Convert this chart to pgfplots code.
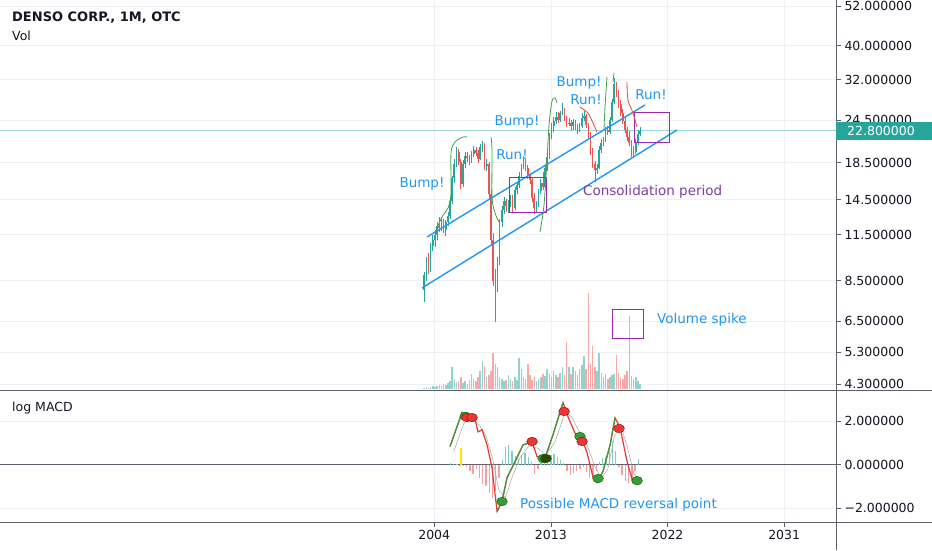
\documentclass[border=0pt]{standalone}
\usepackage{pgfplots}
\pgfplotsset{compat=1.18}
\usepackage{pgfplotstable}
\usepackage{fontspec}
\setmainfont{DejaVu Sans}
\newfontfamily\tickfont{DejaVu Sans}

\definecolor{upc}{HTML}{26A69A}
\definecolor{dnc}{HTML}{EF5350}
\definecolor{upv}{HTML}{92D2CC}
\definecolor{dnv}{HTML}{F6A9A7}
\definecolor{annb}{HTML}{2196F3}
\definecolor{purp}{HTML}{9C27B0}
\definecolor{purtxt}{HTML}{7B3FA8}
\definecolor{brg}{HTML}{43A047}
\definecolor{brr}{HTML}{F44336}
\definecolor{gridc}{HTML}{EEF0F5}
\definecolor{sepc}{HTML}{5D606B}
\definecolor{txtc}{HTML}{131722}
\definecolor{lastline}{HTML}{9FD8D1}
\definecolor{macdg}{HTML}{3A9A3C}
\definecolor{macdr}{HTML}{E53935}
\definecolor{histg}{HTML}{80CBC4}
\definecolor{histr}{HTML}{F2A0A0}

% rising months: x open high low close volume
\pgfplotstableread{
x o h l c v
2003.22 8.0 9.0 7.4 8.8 1
2003.39 8.8 9.9 8.5 9.6 2
2003.72 9.1 10.9 9.0 10.7 2
2003.89 10.7 11.5 10.3 11.1 3
2004.05 11.1 11.9 10.6 11.5 2
2004.22 11.5 12.5 11.1 12.2 3
2004.55 12.0 12.9 11.8 12.5 3
2004.89 11.9 12.7 11.4 12.5 4
2005.05 12.5 13.4 12.2 13.0 6
2005.22 13.0 14.7 12.8 14.4 8
2005.39 14.4 17.0 14.1 16.7 22
2005.55 16.7 18.9 16.2 18.4 10
2005.72 18.4 20.5 18.0 19.8 7
2006.22 16.1 18.8 15.8 18.4 6
2006.39 18.4 19.9 17.9 19.4 8
2006.89 18.8 20.0 18.5 19.6 15
2007.05 19.6 20.7 19.2 20.1 10
2007.55 19.0 20.9 18.8 20.5 18
2007.72 20.5 21.4 19.9 20.7 28
2008.05 18.1 18.9 17.5 18.4 12
2008.89 8.2 9.9 7.9 9.6 22
2009.05 9.6 12.8 9.4 12.5 12
2009.22 12.5 13.9 12.1 13.5 10
2009.39 13.5 14.8 13.2 14.4 8
2009.72 13.9 14.5 13.3 14.2 14
2009.89 14.2 14.9 13.8 14.4 10
2010.22 13.7 15.8 13.5 15.5 12
2010.39 15.5 16.3 15.0 16.0 9
2010.55 16.0 17.4 15.7 17.0 31
2010.72 17.0 18.4 16.7 18.0 20
2010.89 18.0 19.4 17.8 18.8 12
2011.89 13.7 14.4 13.3 14.0 8
2012.05 14.0 15.6 13.8 15.3 10
2012.22 15.3 16.6 15.0 16.2 12
2012.55 15.8 18.3 15.6 17.9 13
2012.72 17.9 19.6 17.5 19.2 20
2012.89 19.2 22.5 19.0 22.1 15
2013.05 22.1 24.0 21.6 23.5 12
2013.22 23.5 25.0 22.6 24.3 18
2013.39 24.3 25.9 23.8 25.0 14
2013.72 24.5 26.0 24.2 25.7 16
2013.89 25.7 27.5 25.3 26.2 22
2014.39 23.9 24.9 23.5 24.1 22
2014.72 23.5 24.6 23.0 24.2 22
2015.22 23.0 24.0 22.7 23.5 20
2015.39 23.5 25.6 23.2 24.8 24
2015.55 24.8 26.0 24.4 25.2 33
2016.55 17.6 18.4 17.2 17.9 18
2016.72 17.9 20.6 17.7 20.1 36
2016.89 20.1 21.6 19.7 21.1 16
2017.05 21.1 21.9 20.6 21.5 12
2017.22 21.5 23.4 21.2 23.0 15
2017.55 22.6 25.0 22.4 24.5 12
2017.72 24.5 28.2 24.2 27.6 14
2017.89 27.6 32.4 27.2 31.0 15
2019.55 19.8 21.6 19.6 21.2 12
2019.72 21.2 22.9 20.8 22.4 8
2019.89 22.4 23.4 22.0 22.8 5
}\upc

% falling months
\pgfplotstableread{
x o h l c v
2003.55 9.6 10.2 8.9 9.1 1
2004.39 12.2 12.9 11.7 12.0 4
2004.72 12.5 12.8 11.6 11.9 5
2005.89 19.8 20.3 18.2 18.6 8
2006.05 18.6 19.0 15.6 16.1 12
2006.55 19.4 19.8 18.6 19.1 5
2006.72 19.1 19.5 18.2 18.8 9
2007.22 20.1 20.5 19.3 19.7 8
2007.39 19.7 20.1 18.5 19.0 12
2007.89 20.7 21.0 17.6 18.1 23
2008.22 18.4 18.6 14.6 15.0 14
2008.39 15.0 15.5 10.8 11.1 18
2008.55 11.1 11.6 8.2 8.5 36
2008.72 8.5 9.2 6.45 8.2 25
2009.55 14.4 14.6 13.4 13.9 9
2010.05 14.4 14.9 13.4 13.7 8
2011.05 18.8 19.0 17.5 17.9 10
2011.22 17.9 18.2 16.6 17.0 25
2011.39 17.0 17.3 16.1 16.5 14
2011.55 16.5 16.8 14.3 14.7 9
2011.72 14.7 15.1 13.2 13.7 12
2012.39 16.2 17.4 15.4 15.8 15
2013.55 25.0 25.8 24.1 24.5 12
2014.05 26.2 26.6 24.3 24.8 14
2014.22 24.8 25.2 23.4 23.9 47
2014.55 24.1 24.5 22.8 23.5 15
2014.89 24.2 24.5 22.9 23.3 18
2015.05 23.3 23.9 22.4 23.0 14
2015.72 25.2 25.5 23.3 23.7 20
2015.89 23.7 24.1 21.8 22.2 96
2016.05 22.2 22.6 19.5 20.0 25
2016.22 20.0 20.4 17.9 18.3 43
2016.39 18.3 18.7 16.3 17.6 22
2017.39 23.0 23.5 22.2 22.6 10
2018.05 31.0 31.6 28.6 29.2 34
2018.22 29.2 29.8 26.6 27.2 16
2018.39 27.2 28.0 25.2 25.7 12
2018.55 25.7 26.4 23.8 24.3 10
2018.72 24.3 25.0 22.5 23.0 14
2018.89 23.0 23.4 21.4 21.9 18
2019.05 21.9 22.8 20.6 21.0 73
2019.22 21.0 21.5 19.2 20.1 13
2019.39 20.1 20.6 19.3 19.8 10
}\dnc

\pgfplotstableread{
x m
2005.22 0.83
2006.15 2.40
2006.53 2.15
2007.15 2.07
2007.38 1.50
2007.69 1.60
2008.08 0.90
2008.46 -0.15
2008.85 -2.15
2009.23 -1.70
2009.62 -0.60
2010.24 0.14
2010.85 0.90
2011.55 1.05
2011.93 0.37
2012.55 0.30
2013.17 1.38
2013.94 2.85
2014.25 2.30
2014.64 1.75
2015.02 1.24
2015.41 1.15
2015.79 0.55
2016.26 -0.60
2016.56 -0.83
2017.03 -0.30
2017.57 0.90
2017.95 2.15
2018.34 1.70
2018.88 0.14
2019.34 -0.83
2019.73 -0.70
}\macd

\pgfplotstableread{
x s
2005.50 0.60
2006.30 1.90
2006.90 2.15
2007.50 1.80
2008.00 1.30
2008.50 0.30
2009.00 -1.20
2009.50 -1.50
2010.00 -0.60
2010.60 0.30
2011.30 0.85
2012.00 0.75
2012.60 0.45
2013.30 1.00
2014.10 2.40
2014.60 2.20
2015.20 1.50
2015.80 0.90
2016.40 -0.10
2016.90 -0.65
2017.40 -0.20
2017.90 1.30
2018.40 1.80
2018.90 0.80
2019.40 -0.40
2019.80 -0.75
}\signal

\pgfplotstableread{
x h
2005.25 0.05
2005.50 0.01
2005.75 0.02
2009.25 0.20
2009.50 0.80
2009.75 0.90
2010.00 0.60
2010.25 0.40
2010.50 0.25
2010.75 0.45
2011.00 0.55
2011.25 0.35
2011.50 0.15
2012.25 0.10
2012.50 0.20
2012.75 0.40
2013.00 0.45
2013.25 0.50
2013.50 0.35
2013.75 0.20
2014.00 0.05
2016.75 0.10
2017.00 0.30
2017.25 0.35
2017.50 0.60
2017.75 1.10
2018.00 0.60
2019.75 0.25
}\histpos

\pgfplotstableread{
x h
2006.00 -0.05
2006.25 -0.06
2006.50 -0.10
2006.75 -0.30
2007.00 -0.45
2007.25 -0.20
2007.50 -0.60
2007.75 -0.90
2008.00 -1.00
2008.25 -1.30
2008.50 -1.55
2008.75 -1.20
2009.00 -0.60
2011.75 -0.45
2012.00 -0.20
2014.25 -0.30
2014.50 -0.50
2014.75 -0.40
2015.00 -0.30
2015.25 -0.20
2015.50 -0.10
2015.75 -0.35
2016.00 -0.60
2016.25 -0.55
2016.50 -0.30
2018.25 -0.10
2018.50 -0.50
2018.75 -0.75
2019.00 -0.85
2019.25 -0.70
2019.50 -0.30
}\histneg

\begin{document}
\begin{tikzpicture}
\fill[white] (0pt,0pt) rectangle (932pt,550pt);

% ---------------- price panel (log price scale, ticks at ln of the labelled prices) ----------------
\begin{axis}[name=price, at={(0pt,160pt)}, anchor=south west, scale only axis,
  width=836pt, height=390pt,
  xmin=1970.5, xmax=2035, ymin=1.4183, ymax=3.9908,
  axis line style={draw=none},
  xtick={2004,2013,2022,2031}, xticklabels={}, x tick style={draw=none},
  ytick={1.4586,1.6677,1.8718,2.1401,2.4423,2.6741,2.9178,3.1987,3.4657,3.6889,3.9512},
  yticklabels={4.300000,5.300000,6.500000,8.500000,11.500000,14.500000,18.500000,24.500000,32.000000,40.000000,52.000000},
  ytick pos=right, yticklabel pos=right, tick align=outside,
  major tick length=5pt, y tick style={draw=sepc, line width=0.6pt},
  yticklabel style={font=\tickfont\fontsize{12.5}{14}\selectfont, text=txtc, anchor=west},
  xmajorgrids, ymajorgrids, major grid style={draw=gridc, line width=0.7pt},
  clip=false]
\addplot[draw=lastline, line width=1pt, forget plot] coordinates {(1970.5,3.1268) (2035,3.1268)};
% wicks
\addplot[draw=none, mark=none, forget plot,
  error bars/.cd, y dir=plus, y explicit, error mark=none,
  error bar style={draw=upc, line width=0.6pt}]
  table[x=x, y expr=ln(\thisrow{l}), y error plus expr=ln(\thisrow{h})-ln(\thisrow{l})] {\upc};
\addplot[draw=none, mark=none, forget plot,
  error bars/.cd, y dir=plus, y explicit, error mark=none,
  error bar style={draw=dnc, line width=0.6pt}]
  table[x=x, y expr=ln(\thisrow{l}), y error plus expr=ln(\thisrow{h})-ln(\thisrow{l})] {\dnc};
% bodies
\addplot[draw=none, mark=none, forget plot,
  error bars/.cd, y dir=plus, y explicit, error mark=none,
  error bar style={draw=upc, line width=1.6pt}]
  table[x=x, y expr=ln(\thisrow{o}), y error plus expr=ln(\thisrow{c})-ln(\thisrow{o})] {\upc};
\addplot[draw=none, mark=none, forget plot,
  error bars/.cd, y dir=plus, y explicit, error mark=none,
  error bar style={draw=dnc, line width=1.6pt}]
  table[x=x, y expr=ln(\thisrow{c}), y error plus expr=ln(\thisrow{o})-ln(\thisrow{c})] {\dnc};
\end{axis}

% ---------------- volume overlay ----------------
\begin{axis}[at={(0pt,160pt)}, anchor=south west, scale only axis,
  width=836pt, height=390pt, hide axis,
  xmin=1970.5, xmax=2035, ymin=-1, ymax=389]
\addplot[ycomb, draw=upv, line width=1.5pt, mark=none] table[x=x, y=v] {\upc};
\addplot[ycomb, draw=dnv, line width=1.5pt, mark=none] table[x=x, y=v] {\dnc};
\end{axis}

% ---------------- MACD panel ----------------
\begin{axis}[at={(0pt,28pt)}, anchor=south west, scale only axis,
  width=836pt, height=131pt,
  xmin=1970.5, xmax=2035, ymin=-2.64, ymax=3.38,
  axis line style={draw=none},
  xtick={2004,2013,2022,2031}, xticklabels={2004,2013,2022,2031}, xtick pos=bottom,
  xticklabel style={font=\tickfont\fontsize{12.5}{14}\selectfont, text=txtc},
  ytick={-2,0,2}, yticklabels={−2.000000,0.000000,2.000000},
  ytick pos=right, yticklabel pos=right, tick align=outside,
  major tick length=5pt, tick style={draw=sepc, line width=0.6pt},
  yticklabel style={font=\tickfont\fontsize{12.5}{14}\selectfont, text=txtc, anchor=west},
  xmajorgrids, ymajorgrids, major grid style={draw=gridc, line width=0.7pt},
  clip=false]
\addplot[draw=sepc, line width=0.7pt, forget plot] coordinates {(1970.5,0) (2035,0)};
\addplot[ycomb, draw=histg, line width=1.3pt, mark=none] table[x=x, y=h] {\histpos};
\addplot[ycomb, draw=histr, line width=1.3pt, mark=none] table[x=x, y=h] {\histneg};
\addplot[ycomb, draw=yellow!90!orange, line width=1.3pt, mark=none] coordinates {(2006.07,0.77)};
\addplot[draw=gray!70, line width=0.5pt, mark=none] table[x=x, y=s] {\signal};
\addplot[draw=macdr, line width=1.2pt, mark=none] table[x=x, y=m] {\macd};
\addplot[draw=macdg, line width=1.2pt, mark=none] coordinates {(2005.22,0.83) (2006.15,2.40)};
\addplot[draw=macdg, line width=1.2pt, mark=none] coordinates {(2008.85,-2.15) (2009.23,-1.70) (2009.62,-0.60) (2010.24,0.14) (2010.85,0.90) (2011.55,1.05)};
\addplot[draw=macdg, line width=1.2pt, mark=none] coordinates {(2012.55,0.30) (2013.17,1.38) (2013.94,2.85)};
\addplot[draw=macdg, line width=1.2pt, mark=none] coordinates {(2016.56,-0.83) (2017.03,-0.30) (2017.57,0.90) (2017.95,2.15)};
\addplot[draw=macdg, line width=1.2pt, mark=none] coordinates {(2019.34,-0.83) (2019.73,-0.70)};
% reversal circles
\addplot[only marks, mark=*, mark size=4.3pt, mark options={xscale=1.25, fill=macdg, draw=green!40!black, line width=0.4pt}]
  coordinates {(2006.40,2.22) (2009.23,-1.70) (2012.40,0.28) (2015.25,1.29) (2016.64,-0.64) (2019.65,-0.74)};
\addplot[only marks, mark=*, mark size=4.3pt, mark options={xscale=1.25, fill=macdr, draw=red!60!black, line width=0.4pt}]
  coordinates {(2006.53,2.16) (2006.92,2.16) (2011.55,1.06) (2014.02,2.44) (2015.41,1.06) (2018.26,1.66)};
\addplot[only marks, mark=*, mark size=4.3pt, mark options={xscale=1.25, fill=green!35!black!80!red, draw=green!30!black, line width=0.4pt}]
  coordinates {(2012.62,0.28)};
\end{axis}

\begin{scope}[x=1pt, y=1pt]
% ---------------- frame lines ----------------
\draw[sepc, line width=0.8pt] (0,160) -- (932,160);
\draw[sepc, line width=0.8pt] (0,28) -- (932,28);
\draw[sepc, line width=0.8pt] (836,0) -- (836,550);

% last price label
\fill[upc] (836,410) rectangle (932,428);
\node[anchor=west, text=white, font=\tickfont\fontsize{12.5}{14}\selectfont, inner sep=0pt] at (847,419) {22.800000};

% headers
\node[anchor=west, text=txtc, font=\bfseries\fontsize{13}{15}\selectfont, inner sep=0pt] at (12,532) {DENSO CORP., 1M, OTC};
\node[anchor=west, text=txtc, font=\fontsize{12.5}{14}\selectfont, inner sep=0pt] at (12,514) {Vol};
\node[anchor=west, text=txtc, font=\fontsize{12.5}{14}\selectfont, inner sep=0pt] at (12,142) {log MACD};
\end{scope}

% annotations in pixel coordinates
\begin{scope}[yshift=550pt, x=1pt, y=-1pt]
  \draw[annb, line width=1.4pt] (427,237) -- (645,105);
  \draw[annb, line width=1.4pt] (422,288) -- (677,130);
  \draw[purp, line width=1pt] (509,178) rectangle (546,212);
  \draw[purp, line width=1pt] (634,113) rectangle (669,143);
  \draw[purp, line width=1pt] (612,309) rectangle (643,338);
  % green brackets
  \draw[brg, line width=0.8pt] plot[smooth] coordinates {(435,233) (442,217) (448,208) (451,193) (451,153) (455,142) (463,137) (467,137)};
  \draw[brg, line width=0.8pt] plot[smooth] coordinates {(491,137) (492,150) (492,197) (495,213) (499,222)};
  \draw[brg, line width=0.8pt] plot[smooth] coordinates {(540,232) (544,205) (547,160) (549,125) (552,101) (555,98) (557,103)};
  \draw[brg, line width=0.8pt] plot[smooth] coordinates {(604,129) (605,107) (607,77)};
  \draw[brg, line width=0.8pt] (613,82) -- (614,73);
  % red curves
  \draw[brr, line width=0.8pt] plot[smooth] coordinates {(580,107) (588,113) (593,123) (597,132)};
  \draw[brr, line width=0.8pt] plot[smooth] coordinates {(627,82) (628,100) (633,113) (637,127)};
  % texts
  \begin{scope}[every node/.style={font=\fontsize{13.5}{15}\selectfont, inner sep=0pt}]
    \node[text=annb] at (422,184) {Bump!};
    \node[text=annb] at (512,155) {Run!};
    \node[text=annb] at (517,122) {Bump!};
    \node[text=annb] at (579,83) {Bump!};
    \node[text=annb] at (586,100) {Run!};
    \node[text=annb] at (651,95) {Run!};
    \node[text=purtxt, anchor=west] at (583,192) {Consolidation period};
    \node[text=annb, anchor=west] at (657,320) {Volume spike};
    \node[text=annb, anchor=west] at (520,505) {Possible MACD reversal point};
  \end{scope}
\end{scope}
\pgfresetboundingbox
\path[use as bounding box] (0pt,0pt) rectangle (932pt,550pt);
\end{tikzpicture}
\end{document}
